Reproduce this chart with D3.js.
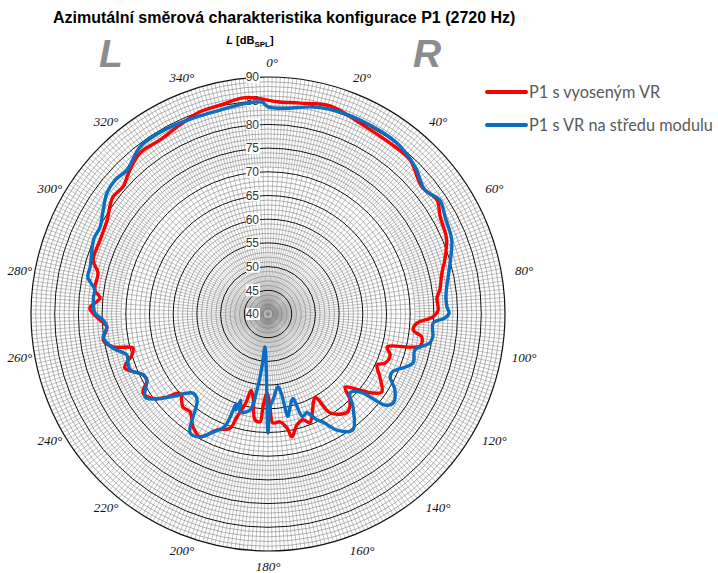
<!DOCTYPE html>
<html><head><meta charset="utf-8">
<script src="https://cdn.jsdelivr.net/npm/d3@7/dist/d3.min.js"></script>
<style>body{margin:0;background:#fff}</style>
</head><body>
<svg id="c" width="718" height="573"></svg>
<script>
const titleText = "Azimutální směrová charakteristika konfigurace P1 (2720 Hz)";
const seriesNames = ["P1 s vyoseným VR", "P1 s VR na středu modulu"];
const seriesColors = ["#ff0000", "#0a6fc2"];
const angleTicks = [0,20,40,60,80,100,120,140,160,180,200,220,240,260,280,300,320,340];
const radialTicks = [40,45,50,55,60,65,70,75,80,85,90];

const redAngles = [0,3,8.6,16.6,25.7,36.5,42.7,50.5,56,60.6,67,73,76.7,82,84.6,88.7,91,93.5,96.3,98.5,101.9,105.5,108.6,112.7,115,119.4,124.4,127,129.6,133.5,136.4,141.1,147.9,150.5,158.9,161.7,165.4,169,170.5,173.7,177.4,178.8,180.7,183.1,184.2,187,190.2,192.5,194,196.8,198.4,203.7,208.9,213.6,218.5,222.4,228.1,230.5,233.5,237.7,241.4,244,249.3,251.2,253.2,255.9,258,261,265.4,268,271.9,275.4,277.9,283.6,287.1,293.5,300.3,304.1,307,311.2,316.2,321.5,328.2,335,341.4,347.1,353.4,357.3];
const redValues = [85.1,84.8,85.0,85.8,84.7,84.3,84.2,82.1,83.0,81.7,80.9,79.0,77.7,76.6,75.8,75.9,74.8,71.5,70.8,72.8,72.8,66.1,67.2,66.8,65.4,67.1,69.1,67.7,65.2,62.4,65.1,66.6,64.6,60.3,64.6,63.5,64.2,66.4,64.4,62.9,63.0,59.6,56.7,59.6,62.8,62.5,57.8,56.5,59.3,62.7,65.4,66.7,69.6,68.6,66.4,66.6,65.0,67.5,70.0,71.2,69.1,69.3,72.3,71.4,70.0,69.4,73.4,75.2,74.1,75.5,77.6,75.6,76.9,76.9,78.6,78.7,79.3,80.3,81.0,80.7,82.1,83.4,83.2,84.0,85.0,85.2,85.9,85.6];

const blueAngles = [0,5.3,11.5,16.5,25.4,37,45,51.7,56.5,61.3,68,74.3,78.4,84.5,87.8,89.7,91.3,93.1,97.9,100.1,103.8,108.7,115.1,117.3,120.9,125.5,127.9,130,133.9,137.6,143.8,149.3,153,155.2,158.5,161.5,163.5,166.7,169,170.5,172.2,176.7,178.8,180,185.2,186.5,188.2,190.6,195.9,197.5,198.5,199.5,201,205,208.9,213.2,219.5,223.5,229,233,236,241.4,244,247.9,250.7,253.8,257.6,262.1,265.4,267.9,270.3,275.4,277.9,281.6,284.8,293.2,297.4,302.2,306.9,311.2,315.6,322.5,329.3,335,341,346.8,354.3,358.4];
const blueValues = [83.7,83.6,84.6,85.1,85.3,85.2,83.9,82.2,83.5,82.6,81.8,79.9,78.8,77.7,77.8,78.2,77.3,74.9,75.1,74.7,71.9,72.3,68.9,69.0,71.2,72.4,71.3,65.7,64.0,66.6,70.3,68.5,65.6,64.6,62.4,62.8,58.6,60.2,62.0,57.0,55.5,58.2,59.6,65.1,47.0,51.2,56.2,60.6,61.5,59.1,61.3,60.2,65.4,67.5,69.6,70.0,63.5,63.0,66.5,69.8,71.3,69.1,69.3,71.4,71.3,71.0,73.5,75.1,74.1,74.8,76.5,77.0,76.9,78.8,78.8,80.0,79.9,81.1,82.5,82.9,82.5,84.4,84.6,84.4,84.2,84.2,84.7,84.7];

const svg = d3.select("#c");
const cx = 268, cy = 314, R = 237;
const r = d3.scaleLinear().domain([40, 90]).range([0, R]);
const ang = d3.scaleLinear().domain([0, 360]).range([0, 2 * Math.PI]);

const g = svg.append("g").attr("transform", `translate(${cx},${cy})`);

// radial grid lines
const degs = d3.range(0, 360, 1);
const inner = d => d % 10 === 0 ? 0 : d % 2 === 0 ? r(41) : r(71);
g.append("g").selectAll("line").data(degs).join("line")
  .attr("x1", d => Math.sin(ang(d)) * inner(d))
  .attr("y1", d => -Math.cos(ang(d)) * inner(d))
  .attr("x2", d => Math.sin(ang(d)) * R)
  .attr("y2", d => -Math.cos(ang(d)) * R)
  .attr("stroke", "#888").attr("stroke-width", 0.5);

// fine circles every 1 dB
const fine = d3.range(41, 90, 1).filter(v => v % 5 !== 0);
g.append("g").selectAll("circle").data(fine).join("circle")
  .attr("r", d => r(d)).attr("fill", "none")
  .attr("stroke", "#777").attr("stroke-width", 0.55);

// major circles
g.append("g").selectAll("circle").data(radialTicks.filter(v => v > 40)).join("circle")
  .attr("r", d => r(d)).attr("fill", "none")
  .attr("stroke", "#111").attr("stroke-width", d => d === 90 ? 1.2 : 1);

// radial tick labels
const lbl = g.append("g").selectAll("g").data(radialTicks).join("g")
  .attr("transform", d => `translate(-9,${-r(d)})`);
lbl.append("rect").attr("x", -13).attr("y", -6).attr("width", 14).attr("height", 12).attr("fill", "#fff");
lbl.append("text").attr("text-anchor", "end").attr("dy", "0.36em")
  .attr("font-family", "Liberation Sans, Arial, sans-serif").attr("font-size", 12)
  .attr("fill", "#333").text(d => d);

// series
const line = d3.lineRadial().angle(d => ang(d[0])).radius(d => r(d[1]))
  .curve(d3.curveCatmullRomClosed.alpha(0.5));
const redData = redAngles.map((a, i) => [a, redValues[i]]);
const blueData = blueAngles.map((a, i) => [a, blueValues[i]]);
[redData, blueData].forEach((data, i) => {
  g.append("path").datum(data).attr("d", line).attr("fill", "none")
    .attr("stroke", seriesColors[i]).attr("stroke-width", 3.4)
    .attr("stroke-linejoin", "round");
});

// angle labels
const LR = 252;
g.append("g").selectAll("text").data(angleTicks).join("text")
  .attr("x", d => Math.sin(ang(d)) * LR + (d > 0 && d < 180 ? 8 : d === 0 ? 4 : 0))
  .attr("y", d => -Math.cos(ang(d)) * LR)
  .attr("dy", "0.35em").attr("text-anchor", "middle")
  .attr("font-family", "Liberation Serif, Times New Roman, serif")
  .attr("font-style", "italic").attr("font-size", 13).attr("fill", "#111")
  .text(d => d + "°");

// title
svg.append("text").attr("x", 53).attr("y", 23)
  .attr("font-family", "Liberation Sans, Arial, sans-serif").attr("font-weight", "bold")
  .attr("font-size", 16).attr("fill", "#000").text(titleText);

// axis unit label
const u = svg.append("text").attr("x", 250).attr("y", 44).attr("text-anchor", "middle")
  .attr("font-family", "Liberation Sans, Arial, sans-serif").attr("font-weight", "bold")
  .attr("font-size", 11).attr("fill", "#000");
u.append("tspan").attr("font-style", "italic").text("L");
u.append("tspan").text(" [dB");
u.append("tspan").attr("font-size", 8).attr("dy", 3).text("SPL");
u.append("tspan").attr("dy", -3).text("]");

// big L and R
[["L", 111], ["R", 427]].forEach(([t, x]) => {
  svg.append("text").attr("x", x).attr("y", 67).attr("text-anchor", "middle")
    .attr("font-family", "Liberation Sans, Arial, sans-serif").attr("font-weight", "bold")
    .attr("font-style", "italic").attr("font-size", 39).attr("fill", "#8c8c8c").text(t);
});

// legend
const leg = svg.append("g").selectAll("g").data(seriesNames).join("g")
  .attr("transform", (d, i) => `translate(487,${92 + i * 33})`);
leg.append("line").attr("x1", 0).attr("x2", 39).attr("y1", 0).attr("y2", 0)
  .attr("stroke", (d, i) => seriesColors[i]).attr("stroke-width", 4).attr("stroke-linecap", "round");
leg.append("text").attr("x", 42).attr("dy", "0.35em")
  .attr("font-family", "Lato, Open Sans, sans-serif").attr("font-size", 16.3)
  .attr("fill", "#595959").text(d => d);
</script>
</body></html>
